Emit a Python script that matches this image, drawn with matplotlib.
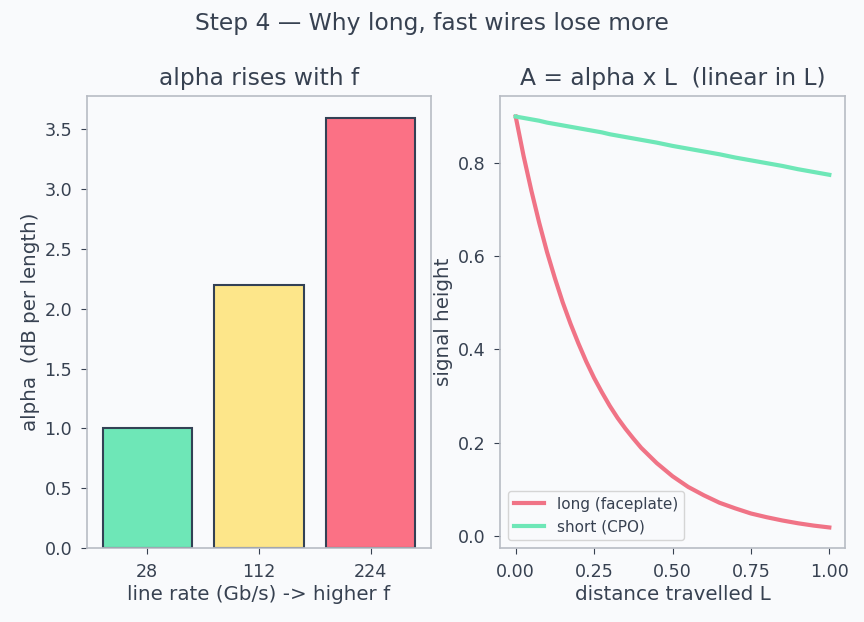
import matplotlib
matplotlib.use("Agg")
import matplotlib.pyplot as plt

# data
rates = ["28", "112", "224"]
alpha = [1.0, 2.2, 3.6]
bar_colors = ["#6ee7b7", "#fde68a", "#fb7185"]

dist = [0.000, 0.025, 0.050, 0.075, 0.100, 0.125, 0.150, 0.175, 0.200,
        0.225, 0.250, 0.275, 0.300, 0.325, 0.350, 0.375, 0.400, 0.45, 0.50,
        0.55, 0.60, 0.65, 0.70, 0.75, 0.80, 0.85, 0.90, 0.95, 1.00]
long_sig = [0.900, 0.816, 0.741, 0.672, 0.609, 0.553, 0.501, 0.455, 0.413,
            0.374, 0.339, 0.308, 0.279, 0.253, 0.230, 0.209, 0.189, 0.156,
            0.128, 0.105, 0.087, 0.071, 0.059, 0.048, 0.040, 0.033, 0.027,
            0.022, 0.018]
short_sig = [0.900, 0.897, 0.894, 0.891, 0.887, 0.884, 0.881, 0.878, 0.875,
             0.872, 0.869, 0.866, 0.862, 0.859, 0.856, 0.853, 0.850, 0.844,
             0.837, 0.831, 0.825, 0.819, 0.812, 0.806, 0.800, 0.794, 0.787,
             0.781, 0.775]
dist_ticks = [0.00, 0.25, 0.50, 0.75, 1.00]

TXT = "#374151"
BG = "#f9fafc"
plt.rcParams.update({
    "font.family": ["DejaVu Sans"],
    "text.color": TXT,
    "axes.labelcolor": TXT,
    "xtick.color": TXT,
    "ytick.color": TXT,
    "axes.edgecolor": "#b8bcc4",
    "axes.linewidth": 1.2,
    "xtick.major.size": 4.2,
    "ytick.major.size": 4.2,
    "xtick.major.pad": 6.5,
    "ytick.major.pad": 6.5,
    "figure.facecolor": BG,
    "axes.facecolor": BG,
})

fig = plt.figure(figsize=(8.64, 6.22), dpi=100)
ax1 = fig.add_axes([87 / 864, 1 - 548 / 622, 344 / 864, 452 / 622])
ax2 = fig.add_axes([500 / 864, 1 - 548 / 622, 345 / 864, 452 / 622])

# panel 1: alpha vs line rate
ax1.bar(range(len(rates)), alpha, color=bar_colors, edgecolor="#334155",
        linewidth=1.5, width=0.8)
ax1.set_xticks(range(len(rates)))
ax1.set_xticklabels(rates)
ax1.set_title("alpha rises with f", fontsize=16.8, pad=8)
ax1.set_xlabel("line rate (Gb/s) -> higher f", fontsize=14.3, labelpad=3)
ax1.set_ylabel("alpha  (dB per length)", fontsize=14.3, labelpad=3)

# panel 2: signal height vs distance
ax2.plot(dist, long_sig, color="#f07386", lw=3, label="long (faceplate)")
ax2.plot(dist, short_sig, color="#6ee7b7", lw=3, label="short (CPO)")
ax2.set_xticks(dist_ticks)
ax2.set_title("A = alpha x L  (linear in L)", fontsize=16.8, pad=8)
ax2.set_xlabel("distance travelled L", fontsize=14.3, labelpad=3)
ax2.set_ylabel("signal height", fontsize=14.3, labelpad=3)
ax2.legend(loc="lower left", fontsize=11)

for ax in (ax1, ax2):
    ax.tick_params(labelsize=12.6)

fig.suptitle("Step 4 — Why long, fast wires lose more", fontsize=16.8, y=0.98)
fig.savefig("out.png", dpi=100, facecolor=BG)
